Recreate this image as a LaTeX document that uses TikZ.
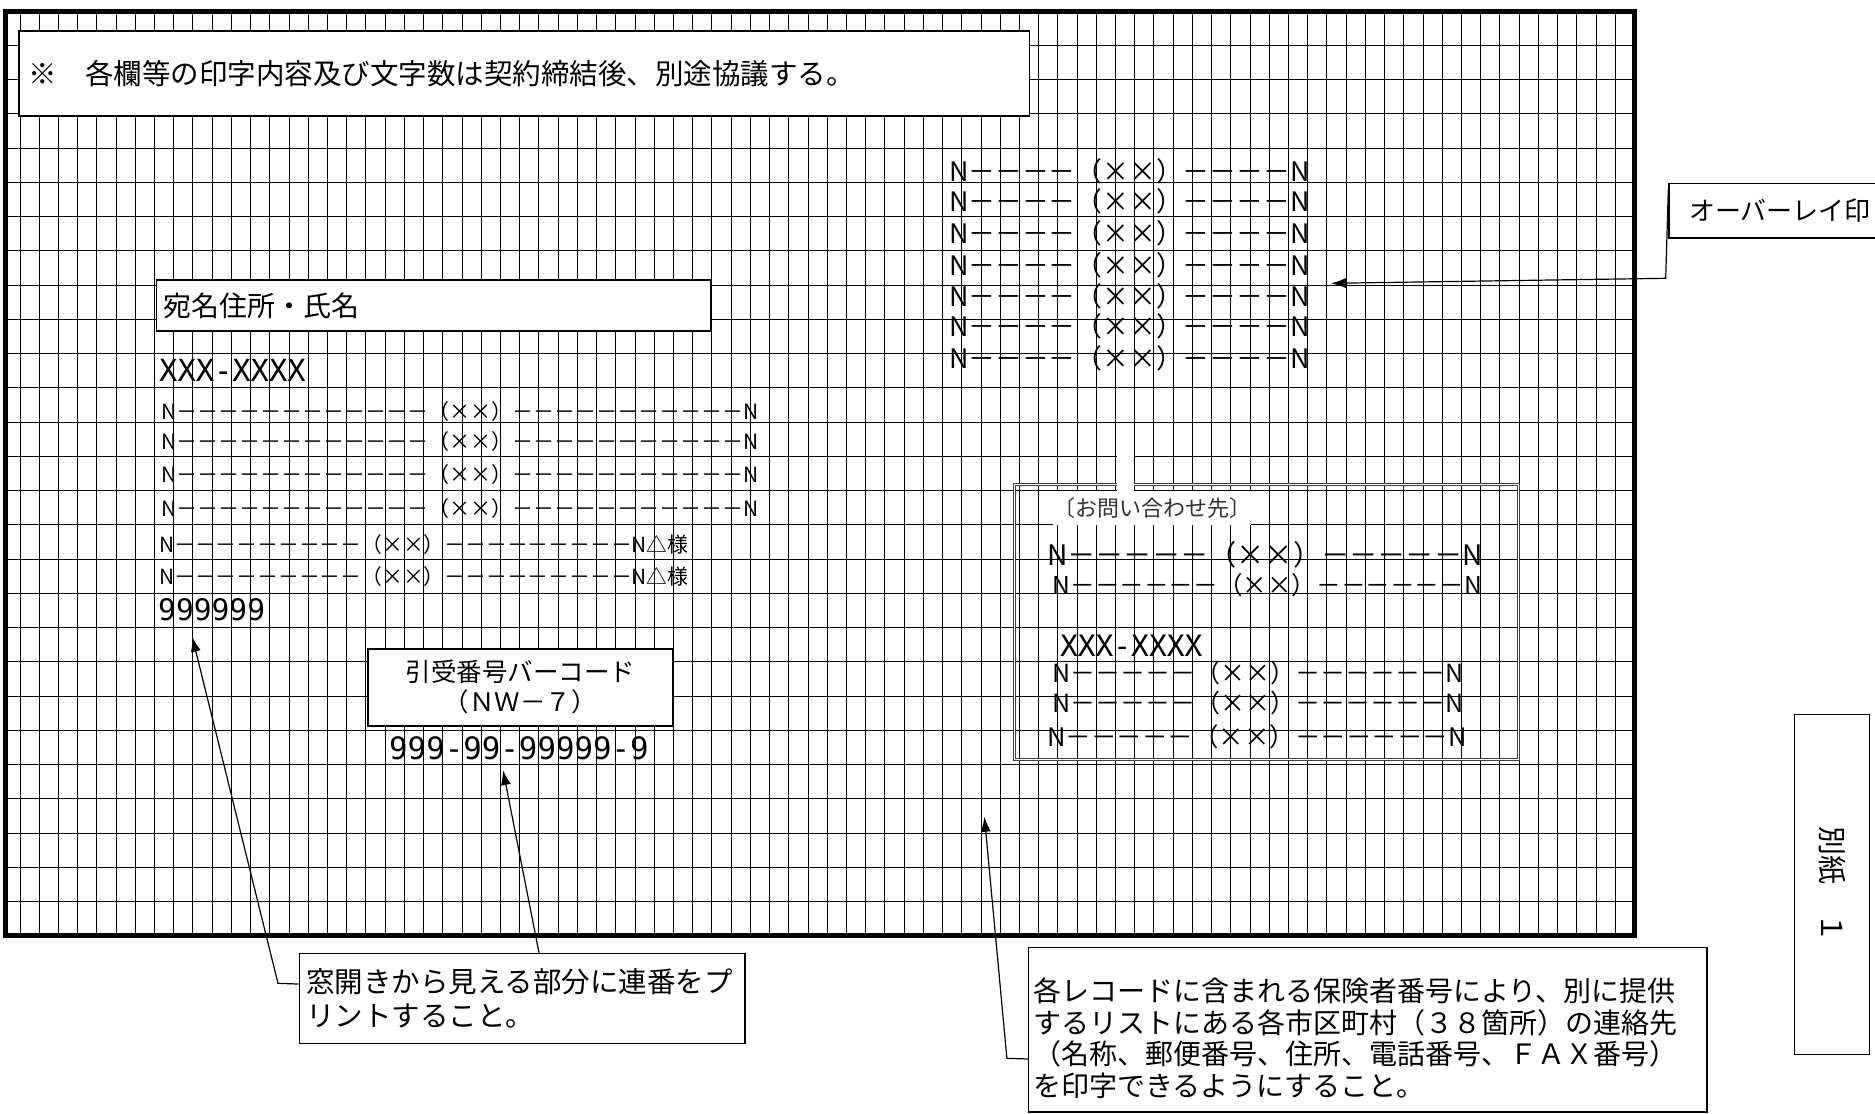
\documentclass[tikz,border=0pt]{standalone}
\usepackage{fontspec}
\setmainfont{Noto Sans CJK JP}
\newfontfamily\monofont{DejaVu Sans Mono}
\usetikzlibrary{arrows.meta}
\newcommand{\fsz}[1]{\fontsize{#1}{#1}\selectfont}
\tikzstyle{gridline} = [line width=1pt]
\tikzstyle{outerframe} = [line width=5pt]
\tikzstyle{block} = [rectangle, draw, fill=white, line width=1.5pt, inner sep=0pt]
\tikzstyle{textrow} = [inner sep=0pt, anchor=west]
\tikzstyle{numrow} = [inner sep=0pt, anchor=west]
\tikzstyle{arrow} = [line width=1.2pt, -{Latex[length=15pt,width=10pt]}]

\begin{document}
\begin{tikzpicture}[x=1pt, y=-1pt]
    \useasboundingbox (0,0) rectangle (1875,1114);
    % Grid and frame
    \foreach \k in {0,...,83}
        \draw[gridline] ({20+19.22*\k},11) -- ({20+19.22*\k},935.5);
    \foreach \k in {1,...,26}
        \draw[gridline] (5,{11+34.25*\k}) -- (1634.5,{11+34.25*\k});
    \draw[outerframe] (5,11) rectangle (1634.5,935.5);

    % Place boxes
    \node[block, anchor=north west, minimum width=1010.3pt, minimum height=85pt, text width=992pt, inner xsep=9pt, align=left, font=\fsz{28.5}] (note) at (18.3,30) {※　各欄等の印字内容及び文字数は契約締結後、別途協議する。};
    \node[block, anchor=north west, minimum width=554.7pt, minimum height=50.7pt, text width=540pt, inner xsep=7.3pt, align=left, font=\fsz{28}] (addr) at (155.7,279.3) {宛名住所・氏名};
    \node[block, anchor=north west, minimum width=305.3pt, minimum height=76.7pt, align=center, font={\fontsize{25.5}{30}\selectfont}] (barcode) at (367,648.3) {引受番号バーコード\\（ＮＷ－７）};
    \node[block, anchor=north west, minimum width=240pt, minimum height=54.6pt, text width=200pt, inner xsep=16.7pt, align=left, font=\fsz{26}] (ovl) at (1668.3,182.7) {オーバーレイ印};
    \node[draw=black!75, line width=0.9pt, double=white, double distance=1.2pt, anchor=north west, minimum width=503.7pt, minimum height=275.3pt, inner sep=0pt] (inquiry) at (1014.3,484) {};
    \fill[white] (1116.5,455.5) rectangle (1133.8,491.5);
    \node[textrow, fill=white, inner ysep=6pt, font=\fsz{22}, text=black!80] (inqlabel) at (1053,508) {〔お問い合わせ先〕};

    % Overlay rows
    \foreach \y [count=\i] in {171.7,201.7,233.3,265,296.7,326.7,358.3}
        \node[textrow, font=\fsz{26.8}] (ovlrow\i) at (949,\y) {N－－－－（××）－－－－N};

    % Address rows
    \node[numrow, font={\monofont\fsz{30.4}}] (zip) at (159,370) {XXX-XXXX};
    \foreach \y [count=\i] in {411.7,441.7,475,508.3}
        \node[textrow, font=\fsz{21}] (addrrow\i) at (161,\y) {N－－－－－－－－－－－－（××）－－－－－－－－－－－N};
    \foreach \y [count=\i] in {545,576.7}
        \node[textrow, font=\fsz{20.8}] (namerow\i) at (159,\y) {N－－－－－－－－－（××）－－－－－－－－－N△様};
    \node[numrow, font={\monofont\fsz{29.6}}] (serialno) at (158,610) {999999};
    \node[numrow, font={\monofont\fsz{30.8}}] (codeno) at (389,748.3) {999-99-99999-9};

    % Inquiry rows
    \node[textrow, font=\fsz{28.2}] (inqrow1) at (1047,555) {N－－－－－（××）－－－－－N};
    \node[textrow, font=\fsz{24.6}] (inqrow2) at (1052.5,585) {N－－－－－－（××）－－－－－－N};
    \node[numrow, font={\monofont\fsz{29.5}}] (inqzip) at (1060,645.5) {XXX-XXXX};
    \node[textrow, font=\fsz{25}] (inqrow3) at (1052.5,672.5) {N－－－－－（××）－－－－－－N};
    \node[textrow, font=\fsz{25}] (inqrow4) at (1052.5,703.3) {N－－－－－（××）－－－－－－N};
    \node[textrow, font=\fsz{25.5}] (inqrow5) at (1047,736.7) {N－－－－－（××）－－－－－－N};

    % Notes below the frame
    \node[block, anchor=north west, minimum width=445.5pt, minimum height=90pt, text width=432pt, inner xsep=6.5pt, align=left, font={\fontsize{28.5}{33.3}\selectfont}] (serial) at (298.5,952.7) {窓開きから見える部分に連番をプ\\リントすること。\\[-6pt]};
    \node[block, anchor=north west, minimum width=678.5pt, minimum height=164.3pt] (info) at (1027.9,946.7) {};
    \node[anchor=north west, inner sep=0pt, align=left, font={\fontsize{28}{31.7}\selectfont}] (infotext) at (1033,977.5) {各レコードに含まれる保険者番号により、別に提供\\するリストにある各市区町村（３８箇所）の連絡先\\（名称、郵便番号、住所、電話番号、ＦＡＸ番号）\\を印字できるようにすること。};
    \node[block, rotate=-90, minimum width=340pt, minimum height=75pt, font=\fsz{29}] (sheet) at (1831.8,884.3) {別紙　１};

    % Leaders
    \coordinate (ovlbend) at (1665.7,278.3);
    \coordinate (ovltip) at (1330.8,283.3);
    \draw[arrow] ([yshift=-7pt]ovl.north west) -- (ovlbend) -- (ovltip);
    \coordinate (serialbend) at (278,983.3);
    \coordinate (serialtip) at (192.2,636.7);
    \draw[arrow] ([yshift=14.4pt]serial.west) -- (serialbend) -- (serialtip);
    \coordinate (codetip) at (503,770);
    \draw[arrow] ([xshift=17pt]serial.north) -- (codetip);
    \coordinate (infobend) at (1006.9,1058.3);
    \coordinate (infotip) at (984.4,816.7);
    \draw[arrow] ([yshift=-29.4pt]info.west) -- (infobend) -- (infotip);
\end{tikzpicture}
\end{document}
